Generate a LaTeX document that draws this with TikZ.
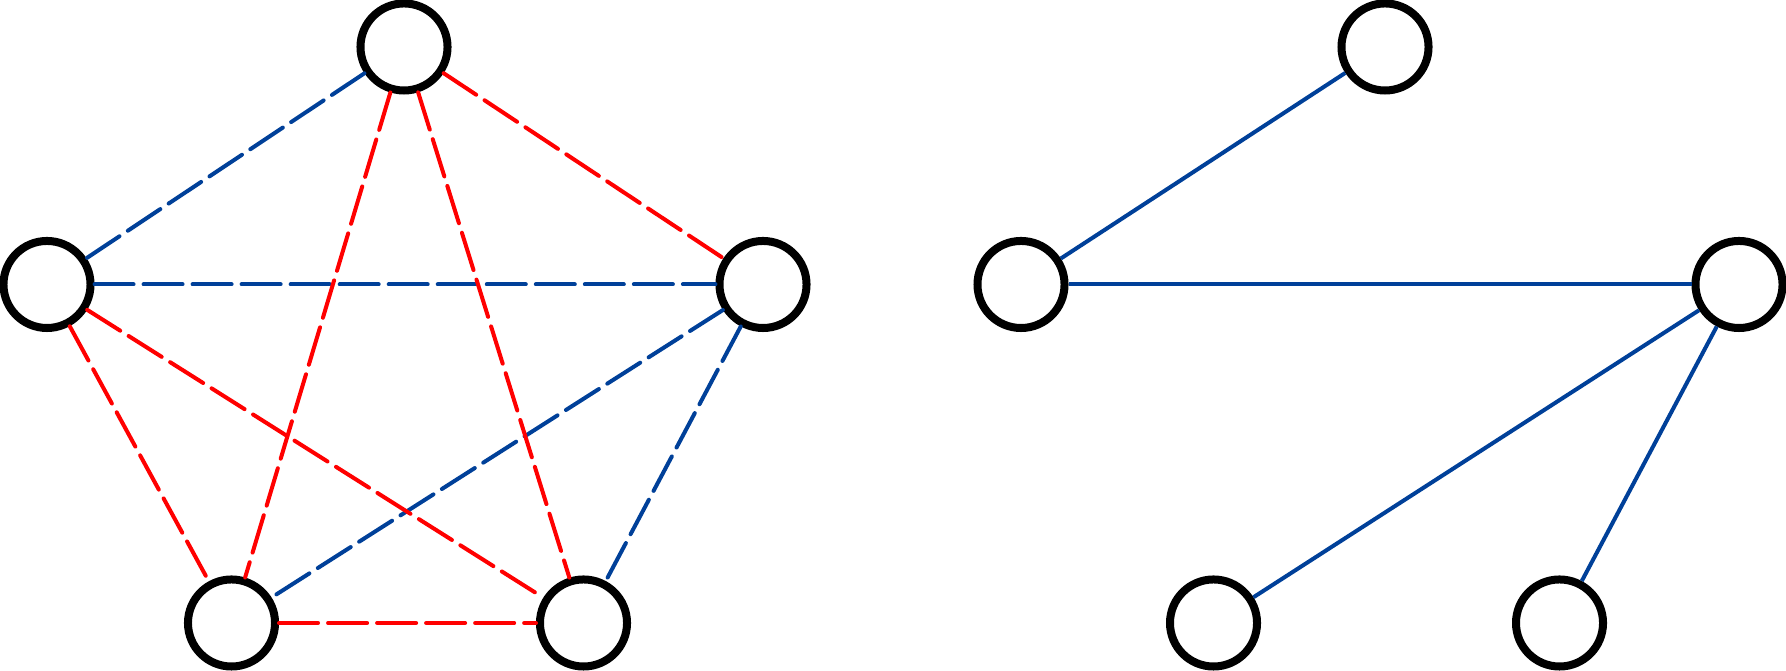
\documentclass[tikz,border=0pt]{standalone}
\usepackage{tikz}
\definecolor{edgeblue}{RGB}{0,64,153}
\definecolor{edgered}{RGB}{255,0,0}
\tikzset{
    vertex/.style={circle,draw=black,line width=0.08cm,minimum size=0.87cm,inner sep=0pt,fill=white},
    dashedge/.style={line width=0.04cm,line cap=round,dash pattern=on 0.39cm off 0.10cm},
    treeedge/.style={line width=0.04cm,edgeblue}
}
\begin{document}
\begin{tikzpicture}[x=0.01cm,y=0.01cm]
        \useasboundingbox (0,0) rectangle (1786,671);
        % complete graph
        \node[vertex] (top) at (404,624) {};
        \node[vertex] (left) at (47,386.5) {};
        \node[vertex] (right) at (763,386.5) {};
        \node[vertex] (botl) at (231.5,48) {};
        \node[vertex] (botr) at (583.5,48) {};
        \draw[dashedge,edgeblue] (top) -- (left);
        \draw[dashedge,edgeblue] (left) -- (right);
        \draw[dashedge,edgeblue] (right) -- (botl);
        \draw[dashedge,edgeblue] (right) -- (botr);
        \draw[dashedge,edgered] (top) -- (botl);
        \draw[dashedge,edgered] (top) -- (botr);
        \draw[dashedge,edgered] (top) -- (right);
        \draw[dashedge,edgered] (left) -- (botl);
        \draw[dashedge,edgered] (left) -- (botr);
        \draw[dashedge,edgered] (botl) -- (botr);
        % tree
        \node[vertex] (ttop) at (1385,624) {};
        \node[vertex] (tleft) at (1021,386.5) {};
        \node[vertex] (tright) at (1739,386.5) {};
        \node[vertex] (tbotl) at (1213.5,48) {};
        \node[vertex] (tbotr) at (1559.5,48) {};
        \draw[treeedge] (ttop) -- (tleft);
        \draw[treeedge] (tleft) -- (tright);
        \draw[treeedge] (tright) -- (tbotl);
        \draw[treeedge] (tright) -- (tbotr);
    \end{tikzpicture}
\end{document}
